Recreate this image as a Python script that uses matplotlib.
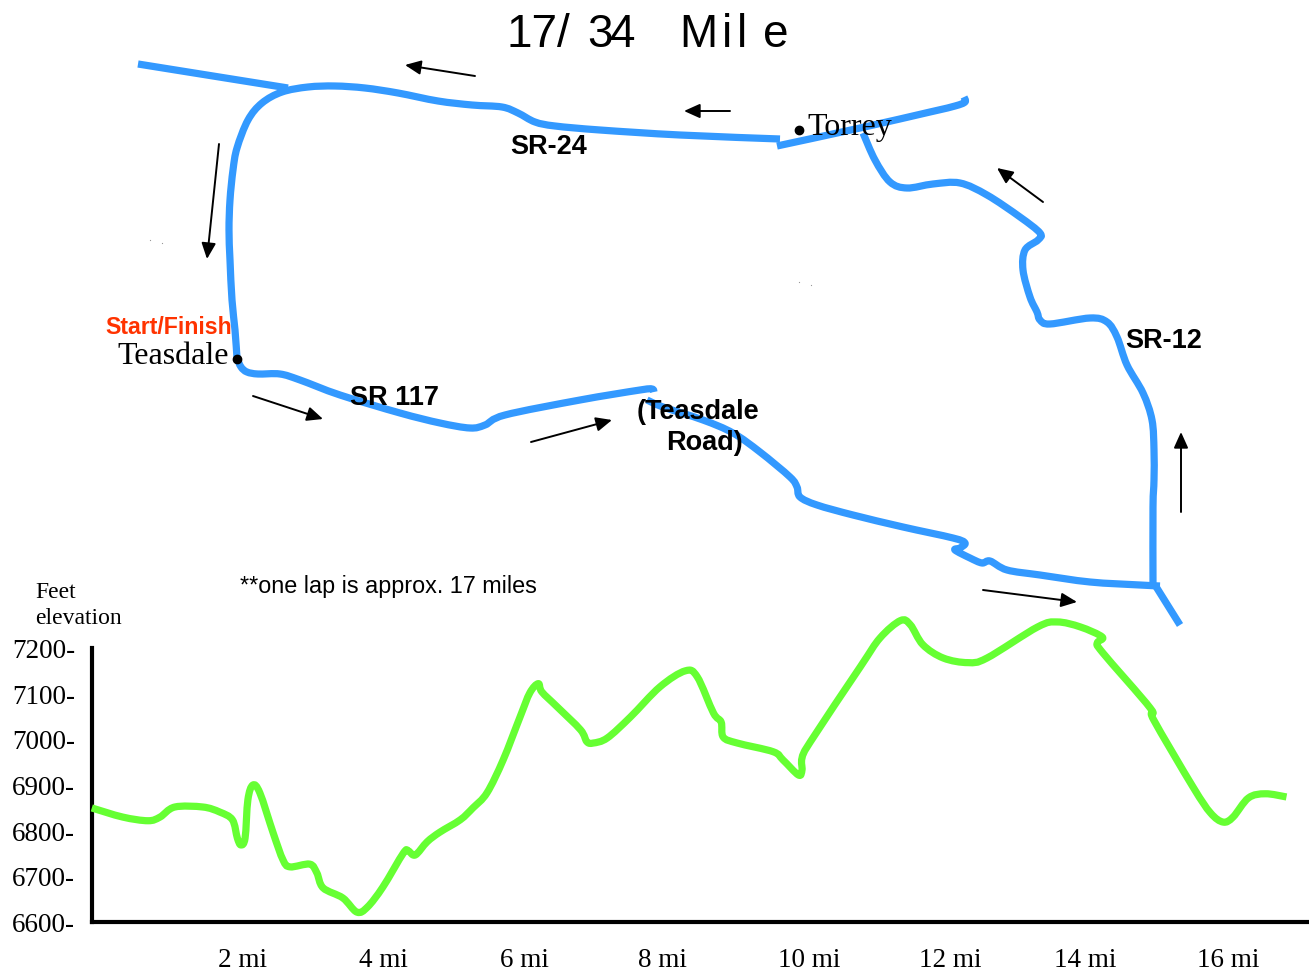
import matplotlib
matplotlib.use("Agg")
import matplotlib.pyplot as plt
from matplotlib.patches import ArrowStyle, PathPatch
from matplotlib.path import Path
from matplotlib.transforms import ScaledTranslation

# elevation profile, miles / feet
miles = [-0.16, 0.28, 0.64, 0.81, 1.02, 1.42, 1.66, 1.84, 1.91, 1.96, 2.02, 2.06, 2.13, 2.23, 2.42, 2.56,
         2.66, 2.94, 3.04, 3.13, 3.41, 3.61, 3.76, 3.98, 4.27, 4.34, 4.44, 4.61, 4.79, 5.08, 5.26, 5.46, 5.69,
         5.93, 6.07, 6.19, 6.24, 6.46, 6.79, 6.88, 6.97, 7.17, 7.50, 7.92, 8.28, 8.45, 8.68, 8.79, 8.82, 9.02,
         9.53, 9.67, 9.89, 9.94, 9.94, 10.06, 10.77, 11.05, 11.34, 11.48, 11.66, 11.95, 12.30, 12.57, 13.29,
         13.57, 13.90, 14.21, 14.14, 14.22, 14.89, 14.94, 15.50, 15.75, 15.93, 16.07, 16.29, 16.53, 16.83]
feet = [6854, 6834, 6826, 6834, 6856, 6856, 6845, 6828, 6788, 6773, 6788, 6872, 6904, 6887, 6799, 6740,
        6725, 6731, 6712, 6679, 6657, 6626, 6637, 6681, 6755, 6760, 6751, 6780, 6801, 6828, 6854, 6887, 6959,
        7053, 7106, 7126, 7108, 7075, 7025, 6999, 6996, 7007, 7053, 7119, 7154, 7141, 7062, 7042, 7009, 6996,
        6977, 6959, 6926, 6937, 6963, 6999, 7163, 7226, 7264, 7255, 7211, 7182, 7172, 7182, 7250,
        7261, 7250, 7228, 7215, 7193, 7073, 7047, 6900, 6843, 6823, 6834, 6876, 6885, 6878]
y_ticks = [6600, 6700, 6800, 6900, 7000, 7100, 7200]
x_ticks = [1.99, 3.99, 5.99, 7.95, 10.04, 12.05, 13.97, 16.0]
x_labels = ["2 mi", "4 mi", "6 mi", "8 mi", "10 mi", "12 mi", "14 mi", "16 mi"]

# map roads, traced in image pixels
sr24_x = [237, 235, 232, 230, 229, 230, 233, 237, 248, 262, 282, 308, 335, 365, 398, 438, 472, 502, 518, 535,
          555, 600, 680, 780]
sr24_y = [358, 330, 300, 260, 230, 200, 170, 148, 120, 103, 92, 87, 86, 88, 93, 101, 105, 107, 113, 122,
          126, 130, 135, 139]
west_x = [138, 288]
west_y = [64, 88]
torrey_x = [777, 860, 930, 955, 965, 964]
torrey_y = [146, 128, 112, 106, 102, 97]
sr12_x = [863, 875, 890, 907, 933, 960, 987, 1020, 1040, 1038, 1025, 1023, 1030, 1037, 1040, 1050, 1090, 1107,
          1117, 1127, 1143, 1152, 1154, 1154, 1153, 1153]
sr12_y = [133, 160, 182, 188, 184, 183, 195, 217, 233, 240, 250, 270, 297, 312, 320, 324, 318, 322,
          337, 365, 393, 420, 450, 480, 507, 583]
spur_x = [1155, 1180]
spur_y = [585, 625]
south_x = [1160, 1140, 1090, 1040, 1007, 990, 982, 970, 955, 960, 965, 953, 903, 853, 817, 800, 797, 790, 760,
           733, 703, 663, 647]
south_y = [586, 585, 582, 575, 570, 561, 563, 558, 550, 548, 543, 538, 527, 515, 505, 497, 487, 477, 452,
           433, 420, 407, 400]
sr117_x = [237, 241, 247, 258, 280, 300, 340, 400, 440, 470, 485, 505, 580, 640, 652, 654]
sr117_y = [358, 367, 372, 374, 374, 380, 395, 413, 423, 428, 425, 415, 400, 390, 389, 392]
roads = [(sr24_x, sr24_y), (west_x, west_y), (torrey_x, torrey_y), (sr12_x, sr12_y), (spur_x, spur_y),
         (south_x, south_y), (sr117_x, sr117_y)]

# direction arrows: tail x, tail y, head x, head y
arrows = [(475, 76, 405, 65), (730, 111, 684, 111), (1043, 202, 997, 168), (1181, 512, 1181, 432),
          (983, 590, 1077, 602), (531, 442, 612, 420), (253, 396, 323, 419), (219, 144, 207, 259)]

SERIF = "Liberation Serif"
SANS = "Liberation Sans"
BLUE = "#3399ff"
GREEN = "#66ff33"


def smooth_path(x, y):
    # catmull-rom through the read points, drawn as bezier segments
    verts = [(x[0], y[0])]
    codes = [Path.MOVETO]
    n = len(x)
    for i in range(n - 1):
        a = max(i - 1, 0)
        d = min(i + 2, n - 1)
        verts.append((x[i] + (x[i + 1] - x[a]) / 6, y[i] + (y[i + 1] - y[a]) / 6))
        verts.append((x[i + 1] - (x[d] - x[i]) / 6, y[i + 1] - (y[d] - y[i]) / 6))
        verts.append((x[i + 1], y[i + 1]))
        codes += [Path.CURVE4, Path.CURVE4, Path.CURVE4]
    return Path(verts, codes)


fig = plt.figure(figsize=(13.09, 9.76), dpi=100)
W, H = 1309, 976

# map layer
ax = fig.add_axes([0, 0, 1, 1])
ax.set_xlim(0, W)
ax.set_ylim(H, 0)
ax.axis("off")
for x, y in roads:
    ax.add_patch(PathPatch(smooth_path(x, y), fc="none", ec=BLUE, lw=5.2, joinstyle="round", capstyle="butt"))
head = ArrowStyle("-|>", head_length=0.6, head_width=0.27)
for x0, y0, x1, y1 in arrows:
    ax.annotate("", xy=(x1, y1), xytext=(x0, y0),
                arrowprops=dict(arrowstyle=head, color="black", lw=1.4, mutation_scale=16, shrinkA=0, shrinkB=0))
ax.plot([237, 799], [359, 130], "o", color="black", ms=6, ls="none", zorder=5)
ax.plot([150, 162, 799, 811], [240, 243, 282, 285], "s", color="#999999", ms=0.8, mew=0, ls="none")

# title pieces are placed one by one, the reference has uneven spacing
for piece, px in [("17/", 507), ("3", 587), ("4", 610), ("M", 679), ("i", 722), ("l", 737), ("e", 763)]:
    ax.text(px, 47, piece, family=SANS, fontsize=33, ha="left", va="baseline")

ax.text(549, 147, "SR-24", family=SANS, fontsize=19.5, weight="bold", ha="center", va="center")
ax.text(1164, 341, "SR-12", family=SANS, fontsize=19.5, weight="bold", ha="center", va="center")
ax.text(394, 398, "SR 117", family=SANS, fontsize=19.5, weight="bold", ha="center", va="center")
ax.text(698, 412, "(Teasdale", family=SANS, fontsize=19.5, weight="bold", ha="center", va="center")
ax.text(704, 443, "Road)", family=SANS, fontsize=19.5, weight="bold", ha="center", va="center")
ax.text(169, 328, "Start/Finish", family=SANS, fontsize=16.7, weight="bold", color="#ff3300", ha="center", va="center")
ax.text(173, 357, "Teasdale", family=SERIF, fontsize=23, ha="center", va="center")
ax.text(850, 128, "Torrey", family=SERIF, fontsize=23, ha="center", va="center")
ax.text(388, 586, "**one lap is approx. 17 miles", family=SANS, fontsize=16.8, ha="center", va="center")
ax.text(35, 592, "Feet", family=SERIF, fontsize=17, ha="left", va="center")
ax.text(35, 619, "elevation", family=SERIF, fontsize=17, ha="left", va="center")

# elevation layer
ax2 = fig.add_axes([92 / W, 1 - 924 / H, (W - 92) / W, 276 / H])
ax2.patch.set_alpha(0)
ax2.set_xlim(-0.157, 17.15)
ax2.set_ylim(6600, 7204)
ax2.add_patch(PathPatch(smooth_path(miles, feet), fc="none", ec=GREEN, lw=5.2, joinstyle="round",
                        capstyle="butt", clip_on=False, zorder=4))
ax2.spines["top"].set_visible(False)
ax2.spines["right"].set_visible(False)
ax2.spines["left"].set_linewidth(3)
ax2.spines["bottom"].set_linewidth(3)
ax2.spines["bottom"].set_position(("data", 6604))
ax2.spines["left"].set_bounds(6604, 7204)
ax2.set_yticks(y_ticks)
ax2.set_yticklabels([f"{v}-" for v in y_ticks], family=SERIF, fontsize=19.5)
ax2.set_xticks(x_ticks)
ax2.set_xticklabels(x_labels, family=SERIF, fontsize=19.5)
ax2.tick_params(axis="both", length=0)
ax2.tick_params(axis="y", pad=12)
ax2.tick_params(axis="x", pad=18.5)
ax2.get_xticklabels()[6].set_y(-0.007)
# y labels sit a little higher than the tick position
nudge = ScaledTranslation(0, 1.5 / 100, fig.dpi_scale_trans)
for lbl in ax2.get_yticklabels():
    lbl.set_transform(lbl.get_transform() + nudge)

fig.savefig("out.png", dpi=100)
